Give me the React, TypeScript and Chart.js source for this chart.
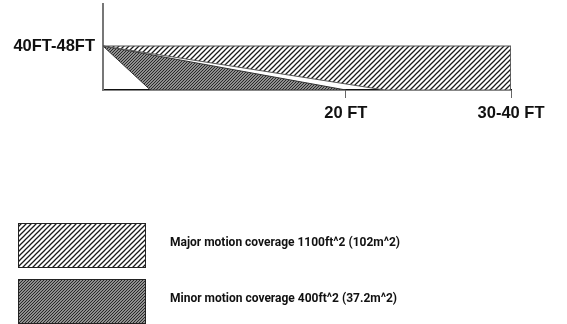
import React, { useEffect, useRef } from "react";
import { Chart, registerables } from "chart.js";

Chart.register(...registerables);

// ---- data ----
const xTickValues = [20, 33.6];
const xTickLabels = ["20 FT", "30-40 FT"];
const yTickValues = [44];
const yTickLabels = ["40FT-48FT"];

const majorX = [0, 33.6, 33.6, 23.2, 0];
const majorY = [44, 44, 0, 0, 44];
const minorX = [0, 3.9, 20, 0];
const minorY = [44, 0, 0, 44];

const legendLabels = [
  "Major motion coverage 1100ft^2 (102m^2)",
  "Minor motion coverage 400ft^2 (37.2m^2)",
];

function makePattern(p: number, bg: string, fg: string, lw: number) {
  const c = document.createElement("canvas");
  c.width = p;
  c.height = p;
  const ctx = c.getContext("2d")!;
  ctx.fillStyle = bg;
  ctx.fillRect(0, 0, p, p);
  ctx.strokeStyle = fg;
  ctx.lineWidth = lw;
  ctx.beginPath();
  ctx.moveTo(0, p);
  ctx.lineTo(p, 0);
  ctx.moveTo(-1, 1);
  ctx.lineTo(1, -1);
  ctx.moveTo(p - 1, p + 1);
  ctx.lineTo(p + 1, p - 1);
  ctx.stroke();
  return ctx.createPattern(c, "repeat")!;
}

export default function App() {
  const ref = useRef<HTMLCanvasElement | null>(null);

  useEffect(() => {
    document.body.style.margin = "0";
    const canvas = ref.current!;
    const majorPat = makePattern(5, "#ffffff", "#1a1a1a", 1.25);
    const minorPat = makePattern(3, "#bdbdbd", "#222222", 1.1);
    const patterns = [majorPat, minorPat];
    const font = "'Liberation Sans', Arial, sans-serif";

    const legendPlugin = {
      id: "customLegend",
      afterDraw(chart: any) {
        const ctx = chart.ctx;
        ctx.save();
        legendLabels.forEach((label, i) => {
          const x = 18;
          const y = 223 + i * 56;
          ctx.fillStyle = patterns[i];
          ctx.fillRect(x, y, 127, 44);
          ctx.strokeStyle = "#222";
          ctx.lineWidth = 1;
          ctx.strokeRect(x + 0.5, y + 0.5, 127, 44);
          ctx.fillStyle = "#111";
          ctx.font = `bold 12px Roboto, 'Liberation Sans', sans-serif`;
          ctx.textBaseline = "middle";
          ctx.textAlign = "left";
          ctx.fillText(label, 170, y + 20);
        });
        ctx.restore();
      },
    };

    const chart = new Chart(canvas, {
      type: "line",
      data: {
        datasets: [
          {
            label: legendLabels[0],
            data: majorX.map((x, i) => ({ x, y: majorY[i] })),
            backgroundColor: majorPat as any,
            borderColor: "#555",
            borderWidth: 1,
            fill: "shape" as any,
            pointRadius: 0,
            tension: 0,
          },
          {
            label: legendLabels[1],
            data: minorX.map((x, i) => ({ x, y: minorY[i] })),
            backgroundColor: minorPat as any,
            borderColor: "#333",
            borderWidth: 1,
            fill: "shape" as any,
            pointRadius: 0,
            tension: 0,
          },
        ],
      },
      options: {
        animation: false,
        responsive: false,
        layout: { padding: { left: 0, right: 56, top: 4, bottom: 194 } },
        plugins: { legend: { display: false }, tooltip: { enabled: false } },
        scales: {
          x: {
            type: "linear",
            min: 0,
            max: 33.6,
            afterBuildTicks: (s: any) => {
              s.ticks = xTickValues.map((v) => ({ value: v }));
            },
            afterFit: (s: any) => {
              s.height = 40;
              s.paddingLeft = 0;
              s.paddingRight = 0;
            },
            grid: {
              display: true,
              drawOnChartArea: false,
              drawTicks: true,
              tickLength: 8,
              color: "#666",
              lineWidth: 1,
            },
            border: { display: true, color: "#111", width: 1.5 },
            ticks: {
              autoSkip: false,
              maxRotation: 0,
              padding: 6,
              color: "#111",
              font: { family: font, weight: "bold", size: 16.5 },
              callback: (v: any) => xTickLabels[xTickValues.indexOf(v)] ?? "",
            },
          },
          y: {
            type: "linear",
            min: 0,
            max: 86,
            afterBuildTicks: (s: any) => {
              s.ticks = yTickValues.map((v) => ({ value: v }));
            },
            afterFit: (s: any) => {
              s.width = 103;
              s.paddingTop = 0;
              s.paddingBottom = 0;
            },
            grid: { display: true, drawOnChartArea: false, drawTicks: false },
            border: { display: true, color: "#777", width: 2 },
            ticks: {
              autoSkip: false,
              padding: 8,
              color: "#111",
              font: { family: font, weight: "bold", size: 16.5 },
              callback: (v: any) => yTickLabels[yTickValues.indexOf(v)] ?? "",
            },
          },
        },
      },
      plugins: [legendPlugin],
    });
    return () => chart.destroy();
  }, []);

  return <canvas ref={ref} width={567} height={324} style={{ display: "block" }} />;
}
